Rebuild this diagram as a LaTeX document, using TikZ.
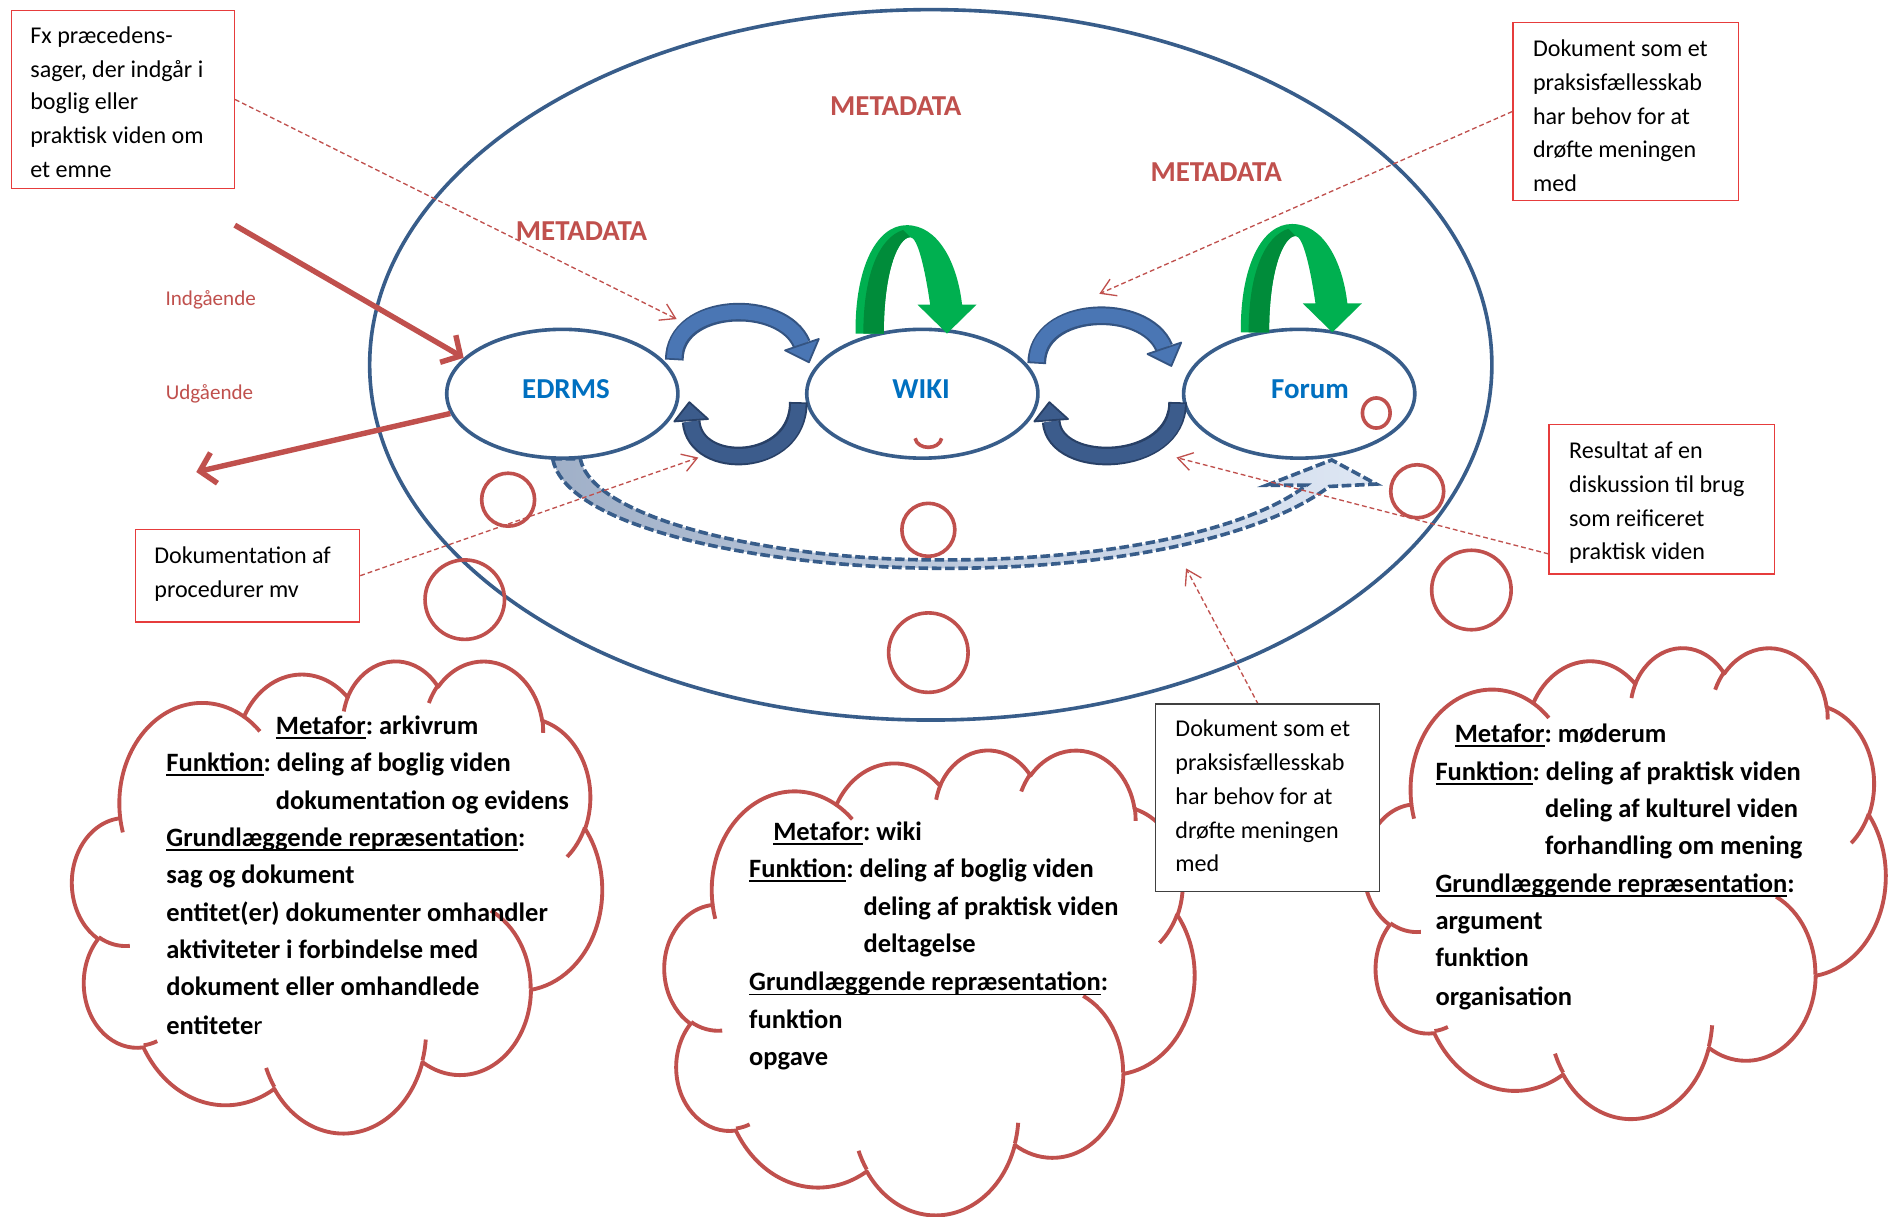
\documentclass[tikz,border=0pt]{standalone}
\usepackage{fontspec}
\setmainfont{Carlito}
\usetikzlibrary{shapes.geometric,arrows.meta}
\definecolor{accred}{RGB}{192,80,77}
\definecolor{boxred}{RGB}{230,60,60}
\definecolor{elblue}{RGB}{56,93,138}
\definecolor{txtblue}{RGB}{0,112,192}
\definecolor{grn}{RGB}{0,176,80}
\definecolor{dgrn}{RGB}{0,140,58}
\definecolor{arcfill}{RGB}{74,118,180}
\definecolor{arcline}{RGB}{52,84,130}
\definecolor{arcfillb}{RGB}{60,92,140}
\definecolor{arclineb}{RGB}{40,64,102}
\definecolor{dshfillA}{RGB}{160,176,200}
\definecolor{dshfillB}{RGB}{222,231,244}

\makeatletter
\newcommand\cldcalc[5]{%
  \pgfmathsetmacro\cld@s{atan2((#2)*sin(#4),(#3)*cos(#4))}%
  \pgfmathsetmacro\cld@t{atan2((#2)*sin((#4)+(#5)),(#3)*cos((#4)+(#5)))}%
  \pgfmathsetmacro\cld@e{\cld@s+mod(\cld@t-\cld@s+720,360)}%
  \expandafter\xdef\csname cld#1\endcsname{arc[x radius=#2pt,y radius=#3pt,start angle=\cld@s,end angle=\cld@e]}%
}
\makeatother
\cldcalc{A}{67.53}{91.90}{-190.48748}{123.78053}
\cldcalc{B}{53.33}{72.67}{-144.10238}{89.94523}
\cldcalc{C}{43.65}{59.45}{-145.80792}{99.72302}
\cldcalc{D}{48.57}{65.95}{-130.98607}{117.24173}
\cldcalc{E}{53.33}{72.73}{-78.70888}{109.02692}
\cldcalc{F}{67.75}{92.20}{-46.26725}{130.269}
\cldcalc{G}{57.85}{78.67}{0.62502}{114.03333}
\cldcalc{H}{67.52}{92.15}{22.4516}{115.17255}
\cldcalc{I}{77.20}{105.43}{66.24263}{75.71102}
\cldcalc{J}{43.60}{59.18}{-274.94208}{146.73557}
\cldcalc{K}{43.45}{59.45}{-246.8285}{152.51885}
\cldcalc{hA}{43.45}{59.45}{86.742}{26.4295}
\cldcalc{hB}{43.60}{59.18}{73.61047}{11.44747}
\cldcalc{hC}{67.52}{92.15}{137.62415}{14.0811}
\cldcalc{hD}{67.52}{92.15}{6.45327}{15.99835}
\cldcalc{hE}{57.85}{78.67}{-70.29235}{70.9174}
\cldcalc{hF}{53.33}{72.73}{30.31803}{27.7515}
\cldcalc{hG}{48.57}{65.95}{-13.74433}{14.85375}
\cldcalc{hH}{48.57}{65.95}{-149.18145}{18.19665}
\cldcalc{hI}{43.65}{59.45}{-163.49427}{17.691}
\cldcalc{hJ}{67.53}{91.90}{-66.70695}{12.31935}
\cldcalc{hK}{67.53}{91.90}{-202.35}{11.86}
\xdef\cldmain{(39,143.7)\cldA\cldB\cldC\cldD\cldE\cldF\cldG\cldH\cldI\cldJ\cldK -- cycle}
\xdef\cldhooks{(46.93,261.77)\cldhA (69.28,348.99)\cldhB (164.78,390.90)\cldhC (288.27,347.51)\cldhD (341.29,229.54)\cldhE (417.98,153.54)\cldhF (383.24,54.26)\cldhG (290.78,39.52)\cldhH (221.41,47.20)\cldhI (140.00,51.92)\cldhJ (41.27,157.89)\cldhK}

\newcommand\undl[1]{\setbox0=\hbox{#1}\rlap{\rule[-3.6pt]{\wd0}{1.5pt}}\box0}

\newcommand\cloudat[4]{%
  \begin{scope}[shift={(#1,#2)},x=1pt,y=1pt,xscale=#3/432,yscale=-#4/432]
    \filldraw[cloudsty,fill=white] \cldmain;
    \draw[cloudsty] \cldhooks;
  \end{scope}}

\newcommand\greenarrow[2]{%
  \begin{scope}[shift={(#1,#2)}]
    \fill[grn] (710.5,277) .. controls (710,222) and (728,187) .. (753,187) .. controls (779,187) and (795,218) .. (799,253) -- (811,253) -- (786.5,277) -- (762,253) -- (772.5,253) .. controls (768,222) and (762,197) .. (756,197) .. controls (746,197) and (734,225) .. (734,277) -- cycle;
    \fill[dgrn] (717,277) .. controls (717,226) and (731,197) .. (750,191) -- (756,197) .. controls (746,197) and (734,225) .. (734,277) -- cycle;
  \end{scope}}

\newcommand\bluetop[2]{%
  \begin{scope}[shift={(#1,#2)}]
    \draw[line width=15.5pt, arcline] (560,299) .. controls (560,250) and (650,247) .. (666,286);
    \draw[line width=12pt, arcfill] (560,297.5) .. controls (560,250) and (650,247) .. (666,286);
    \filldraw[fill=arcfill, draw=arcline, line width=1.5pt, line join=round] (680,281.5) -- (671.8,300.9) -- (652,291) -- cycle;
  \end{scope}}

\begin{document}
\begin{tikzpicture}[x=1pt,y=-1pt,
  ell/.style={ellipse, draw=elblue, line width=3pt, fill=white, minimum width=192pt, minimum height=107pt, inner sep=0pt},
  lbl/.style={font=\fontsize{24}{28}\selectfont\bfseries, text=txtblue, inner sep=0pt},
  meta/.style={font=\fontsize{24}{28}\selectfont\bfseries, text=accred, inner sep=0pt},
  iolbl/.style={font=\fontsize{17.5}{20}\selectfont, text=accred, inner sep=0pt},
  redbox/.style={draw=boxred, line width=1.2pt, fill=white, anchor=north west, inner sep=0pt},
  blkbox/.style={draw=black!75, line width=1.2pt, fill=white, anchor=north west, inner sep=0pt},
  btxt/.style={font=\fontsize{20}{24}\selectfont\frenchspacing, anchor=base west, inner sep=0pt},
  ctxt/.style={font=\fontsize{22}{26}\selectfont\bfseries\frenchspacing, anchor=base west, inner sep=0pt},
  pointer/.style={draw=accred, line width=1.1pt, dash pattern=on 4pt off 2.5pt, -{Straight Barb[length=12pt,width=15pt]}},
  bigred/.style={draw=accred, line width=4.5pt, -{Straight Barb[length=12pt,width=26pt]}},
  tailc/.style={draw=accred, line width=3pt, circle, inner sep=0pt},
  cloudsty/.style={draw=accred, line width=3.2pt, line join=round},
  dsharrow/.style={draw=elblue, line width=3pt, dash pattern=on 8pt off 3pt, left color=dshfillA, right color=dshfillB}
]
\fill[white] (0,0) rectangle (1568,1010);
\useasboundingbox (0,0) rectangle (1568,1010);

% big ellipse
\node[ellipse, draw=elblue, line width=3pt, minimum width=932pt, minimum height=590pt, inner sep=0pt] (big) at (773,303) {};

% dashed big arrow EDRMS -> Forum
\shadedraw[dsharrow] (459,381) .. controls (470,440) and (640,472) .. (785,472) .. controls (930,472) and (1050,445) .. (1104,404) -- (1143,402) -- (1106,382) -- (1052,403) -- (1085,403) .. controls (1040,438) and (930,465) .. (785,465) .. controls (645,466) and (492,432) .. (482,381) -- cycle;

% small ellipses
\node[ell] (edrms) at (467,327) {};
\node[ell] (wiki) at (766,327) {};
\node[ell] (forum) at (1079,327) {};
\node[lbl] (edrmsT) at (470,323) {EDRMS};
\node[lbl] (wikiT) at (765,323) {WIKI};
\node[lbl] (forumT) at (1088,323) {Forum};

% tails
\node[draw=accred, line width=3pt, ellipse, minimum width=23pt, minimum height=25pt, inner sep=0pt] (tI) at (1143,343) {};
\draw[accred, line width=3pt] (760,364) .. controls (762,374) and (780,374) .. (782,364);
\node[tailc, minimum size=44pt] (tA) at (422,415) {};
\node[tailc, minimum size=66pt] (tB) at (386,498) {};
\node[tailc, minimum size=44pt] (tC) at (771,440) {};
\node[tailc, minimum size=66pt] (tD) at (771,542) {};
\node[tailc, minimum size=44pt] (tE) at (1177,408) {};
\node[tailc, minimum size=66pt] (tF) at (1222,490) {};

% blue curved arrows
\bluetop{0}{0}
\bluetop{301}{3}
\draw[line width=15.5pt, arclineb] (663,334) .. controls (663,389) and (577,392) .. (574,350);
\draw[line width=12pt, arcfillb] (663,335.5) .. controls (663,389) and (577,392) .. (574,350);
\filldraw[fill=arcfillb, draw=arclineb, line width=1.5pt, line join=round] (588,348) -- (572.5,334) -- (560,350) -- cycle;
\draw[line width=15.5pt, arclineb] (978,334) .. controls (978,389) and (876,392) .. (873,350);
\draw[line width=12pt, arcfillb] (978,335.5) .. controls (978,389) and (876,392) .. (873,350);
\filldraw[fill=arcfillb, draw=arclineb, line width=1.5pt, line join=round] (887,348) -- (871.5,334) -- (859,350) -- cycle;

% green arrows
\greenarrow{0}{0}
\greenarrow{320}{-1}

% labels
\node[meta] (m1) at (744,88) {METADATA};
\node[meta] (m2) at (1010,143) {METADATA};
\node[meta] (m3) at (483,192) {METADATA};
\node[iolbl] (ind) at (175,249) {Indgående};
\node[iolbl] (udg) at (174,327) {Udgående};

% red in/out arrows
\coordinate (inS) at (195,187);
\coordinate (outE) at (163,392);
\draw[bigred] (inS) -- (edrms.160);
\draw[bigred] (edrms.190) -- (outE);

% boxes
\node[redbox, minimum width=185pt, minimum height=148pt] (boxA) at (9,8) {};
\node[redbox, minimum width=187pt, minimum height=148pt] (boxB) at (1256,18) {};
\node[redbox, minimum width=187pt, minimum height=124pt] (boxC) at (1286,352) {};
\node[redbox, minimum width=186pt, minimum height=77pt] (boxD) at (112,439) {};

% pointers
\coordinate (p1) at (562,265);
\coordinate (p2) at (913,244);
\coordinate (p3) at (580,380);
\coordinate (p4s) at (1286,460);
\coordinate (p4) at (977,380);
\coordinate (p5s) at (1045,585);
\coordinate (p5) at (985,472);
\draw[pointer] (boxA.east) -- (p1);
\draw[pointer] (boxB.west) -- (p2);
\draw[pointer] (boxD.east) -- (p3);
\draw[pointer] (p4s) -- (p4);
\draw[pointer] (p5s) -- (p5);

% box texts
\node[btxt] (a0) at (25,36) {Fx præcedens-};
\node[btxt] (a1) at (25,64) {sager, der indgår i};
\node[btxt] (a2) at (25,91) {boglig eller};
\node[btxt] (a3) at (25,119) {praktisk viden om};
\node[btxt] (a4) at (25,147) {et emne};
\node[btxt] (b0) at (1273,47) {Dokument som et};
\node[btxt] (b1) at (1273,75) {praksisfællesskab};
\node[btxt] (b2) at (1273,103) {har behov for at};
\node[btxt] (b3) at (1273,131) {drøfte meningen};
\node[btxt] (b4) at (1273,159) {med};
\node[btxt] (c0) at (1303,381) {Resultat af en};
\node[btxt] (c1) at (1303,409) {diskussion til brug};
\node[btxt] (c2) at (1303,437) {som reificeret};
\node[btxt] (c3) at (1303,465) {praktisk viden};
\node[btxt] (d0) at (128,468) {Dokumentation af};
\node[btxt] (d1) at (128,496) {procedurer mv};

% clouds
\cloudat{60}{548}{440}{392}
\cloudat{552}{622}{440}{386}
\cloudat{1133}{537}{433}{391}

% bottom box (over clouds)
\node[blkbox, minimum width=186pt, minimum height=156pt] (boxE) at (959,584) {};
\node[btxt] (e0) at (976,612) {Dokument som et};
\node[btxt] (e1) at (976,640) {praksisfællesskab};
\node[btxt] (e2) at (976,668) {har behov for at};
\node[btxt] (e3) at (976,696) {drøfte meningen};
\node[btxt] (e4) at (976,724) {med};

% cloud texts
\node[ctxt] (ca0) at (229,610) {\undl{Metafor}: arkivrum};
\node[ctxt] (ca1) at (138,641) {\undl{Funktion}: deling af boglig viden};
\node[ctxt] (ca2) at (229,672) {dokumentation og evidens};
\node[ctxt] (ca3) at (138,703) {\undl{Grundlæggende repræsentation}:};
\node[ctxt] (ca4) at (138,734) {sag og dokument};
\node[ctxt] (ca5) at (138,765) {entitet(er) dokumenter omhandler};
\node[ctxt] (ca6) at (138,796) {aktiviteter i forbindelse med};
\node[ctxt] (ca7) at (138,827) {dokument eller omhandlede};
\node[ctxt] (ca8) at (138,859) {entitete{\mdseries r}};

\node[ctxt] (cb0) at (642,698) {\undl{Metafor}: wiki};
\node[ctxt] (cb1) at (622,729) {\undl{Funktion}: deling af boglig viden};
\node[ctxt] (cb2) at (717,760) {deling af praktisk viden};
\node[ctxt] (cb3) at (717,791) {deltagelse};
\node[ctxt] (cb4) at (622,823) {\undl{Grundlæggende repræsentation}:};
\node[ctxt] (cb5) at (622,854) {funktion};
\node[ctxt] (cb6) at (622,885) {opgave};

\node[ctxt] (cc0) at (1208,617) {\undl{Metafor}: møderum};
\node[ctxt] (cc1) at (1192,648) {\undl{Funktion}: deling af praktisk viden};
\node[ctxt] (cc2) at (1283,679) {deling af kulturel viden};
\node[ctxt] (cc3) at (1283,710) {forhandling om mening};
\node[ctxt] (cc4) at (1192,741) {\undl{Grundlæggende repræsentation}:};
\node[ctxt] (cc5) at (1192,772) {argument};
\node[ctxt] (cc6) at (1192,803) {funktion};
\node[ctxt] (cc7) at (1192,835) {organisation};
\end{tikzpicture}
\end{document}
